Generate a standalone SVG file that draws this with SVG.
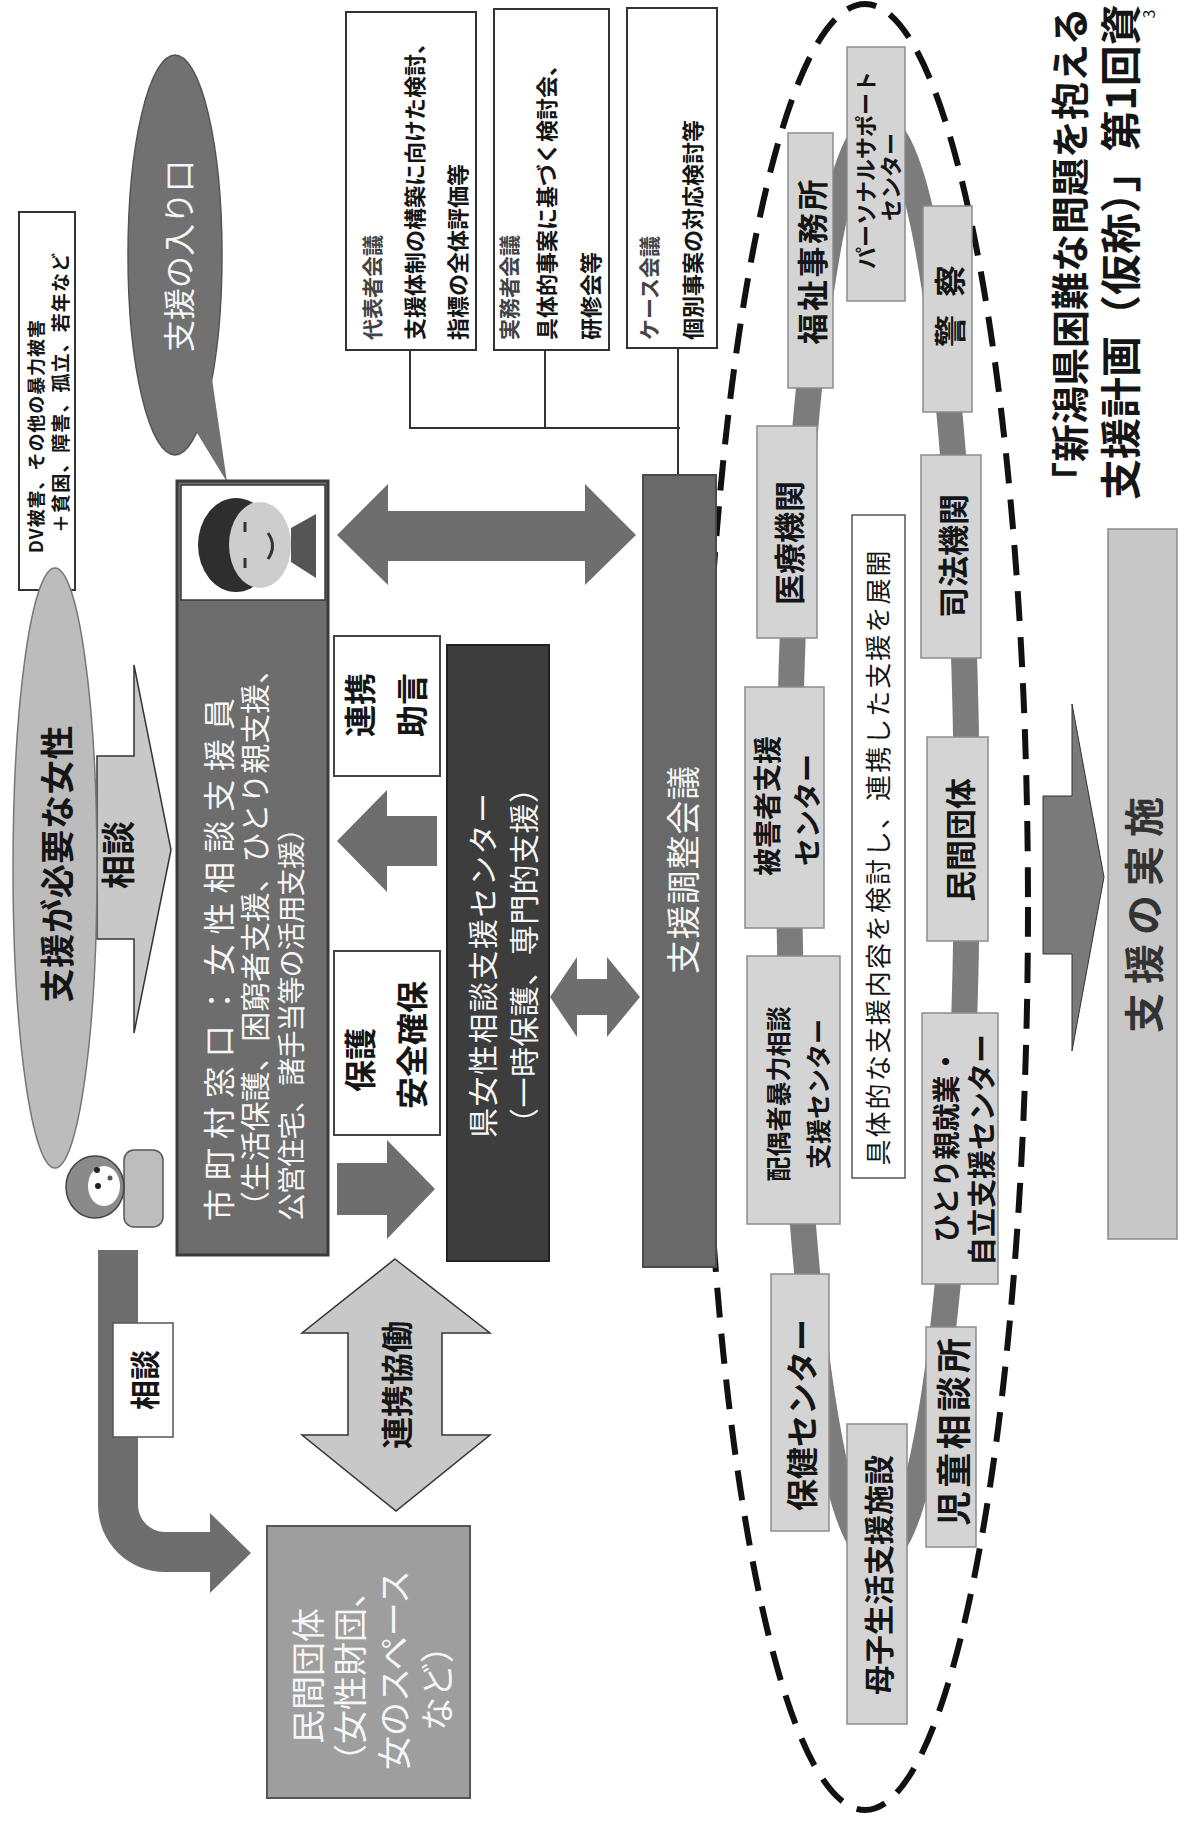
<svg xmlns="http://www.w3.org/2000/svg" width="1184" height="1831" viewBox="0 0 1184 1831">
<style>
text{font-family:"Noto Sans CJK JP","Noto Sans CJK SC",sans-serif;dominant-baseline:central}
.b{font-weight:700}
.s{text-anchor:start}
.m{text-anchor:middle}
.wt{fill:#f6f6f6}
.dk{fill:#151515}
.org{fill:#d4d4d4;stroke:#8c8c8c;stroke-width:1.5}
.meet{fill:#fff;stroke:#333;stroke-width:2}
.lbl{fill:#444}
.blk{fill:#6e6e6e}
.lt{fill:#c8c8c8;stroke:#333;stroke-width:1.5}
</style>
<rect width="1184" height="1831" fill="#fff"/>

<!-- page heading (runs along the right edge) -->
<g id="title">
  <text class="b s dk" font-size="38" transform="translate(1067 500) rotate(-90)">「新潟県困難な問題を抱える</text>
  <text class="b s dk" font-size="41" transform="translate(1118 500) rotate(-90)">支援計画（仮称）」第1回資</text>
  <text class="m dk" font-size="16" transform="translate(1148 14) rotate(-90)">3</text>
</g>

<!-- connectors: block arrows and meeting lines -->
<g id="connectors">
  <!-- consultation arrow: woman -> municipal window -->
  <polygon class="lt" points="97,756 134,756 134,665 171,850 134,1033 134,939 97,939"/>
  <!-- consultation L-arrow: woman -> private groups -->
  <path class="blk" d="M98,1250 H138 V1505 A27,27 0 0 0 165,1532 H210 V1513 L251,1553 L210,1593 V1572 H165 A67,67 0 0 1 98,1505 Z"/>
  <!-- cooperation double arrow -->
  <polygon class="lt" points="395,1259 490,1333 442,1333 442,1435 490,1435 396,1511 302,1435 348,1435 348,1333 302,1333"/>
  <!-- municipal window <-> coordination meeting -->
  <polygon class="blk" points="337,535 388,484 388,511 585,511 585,484 636,535 585,585 585,561 388,561 388,585"/>
  <!-- prefecture centre -> municipal window -->
  <polygon class="blk" points="337,841 387,790 387,816 437,816 437,866 387,866 387,892"/>
  <!-- municipal window -> prefecture centre -->
  <polygon class="blk" points="337,1163 387,1163 387,1140 435,1189 387,1239 387,1215 337,1215"/>
  <!-- prefecture centre <-> coordination meeting -->
  <polygon class="blk" points="550,997 577,957 577,979 607,979 607,957 640,997 607,1037 607,1015 577,1015 577,1037"/>
  <!-- network -> implementation -->
  <polygon fill="#7a7a7a" stroke="#333" stroke-width="1" points="1043,796 1072,796 1072,704 1104,877 1072,1051 1072,954 1043,954"/>
  <!-- meeting tree -->
  <path d="M410,350 V428 H680 M545,350 V428 M678,348 V476" fill="none" stroke="#333" stroke-width="2"/>
</g>

<!-- target group -->
<g id="dv-box">
  <rect x="19" y="212" width="56" height="378" fill="#fff" stroke="#333" stroke-width="2"/>
  <text class="b s dk" font-size="18" textLength="233" transform="translate(35 553) rotate(-90)">DV被害、その他の暴力被害</text>
  <text class="b s dk" font-size="19" textLength="280" transform="translate(59 533) rotate(-90)">＋貧困、障害、孤立、若年など</text>
</g>

<g id="woman-needing-support">
  <ellipse cx="55" cy="868" rx="42" ry="300" fill="#bcbcbc" stroke="#777" stroke-width="1.5"/>
  <text class="b m dk" font-size="34" textLength="277" transform="translate(55 864) rotate(-90)">支援が必要な女性</text>
  <text class="b m dk" font-size="34" transform="translate(116 855) rotate(-90)">相談</text>
</g>

<g id="woman-figure">
  <rect x="124" y="1150" width="39" height="77" rx="10" fill="#bdbdbd" stroke="#555" stroke-width="1.5"/>
  <ellipse cx="95" cy="1187" rx="29" ry="31" fill="#8a8a8a" stroke="#444" stroke-width="1.5"/>
  <ellipse cx="104" cy="1186" rx="16" ry="20" fill="#fff"/>
  <circle cx="97" cy="1170" r="3" fill="#222"/>
  <circle cx="98" cy="1186" r="3" fill="#222"/>
  <circle cx="110" cy="1178" r="2.5" fill="#555"/>
</g>

<g id="entry-bubble">
  <ellipse cx="175" cy="255" rx="47" ry="200" fill="#717171" stroke="#555" stroke-width="1.5"/>
  <polygon points="194,428 227,482 211,372" fill="#717171"/>
  <text class="m wt" font-size="32" transform="translate(177 256) rotate(-90)">支援の入り口</text>
</g>

<g id="municipal-window">
  <rect x="177" y="481" width="151" height="774" fill="#6d6d6d" stroke="#3a3a3a" stroke-width="3"/>
  <rect x="181" y="485" width="144" height="115" fill="#fff" stroke="#3a3a3a" stroke-width="1.5"/>
  <ellipse cx="236" cy="545" rx="38" ry="47" fill="#2e2e2e"/>
  <ellipse cx="260" cy="545" rx="31" ry="43" fill="#cdcdcd"/>
  <path d="M291,528 L316,514 L316,578 L291,562 Z" fill="#555"/>
  <path d="M245,522 v10 M245,558 v10" stroke="#333" stroke-width="3"/>
  <path d="M268,533 q9,13 0,26" fill="none" stroke="#333" stroke-width="3"/>
  <text class="s wt" font-size="32" textLength="523" transform="translate(217 1221) rotate(-90)">市町村窓口：女性相談支援員</text>
  <text class="s wt" font-size="30" textLength="567" transform="translate(253 1221) rotate(-90)">（生活保護、困窮者支援、ひとり親支援、</text>
  <text class="s wt" font-size="28" textLength="407" transform="translate(290 1221) rotate(-90)">公営住宅、諸手当等の活用支援）</text>
</g>

<g id="liaison-advice">
  <rect x="334" y="636" width="106" height="140" fill="#fff" stroke="#444" stroke-width="2"/>
  <text class="b m dk" font-size="32" transform="translate(358 705) rotate(-90)">連携</text>
  <text class="b m dk" font-size="32" transform="translate(410 705) rotate(-90)">助言</text>
</g>

<g id="protection">
  <rect x="334" y="951" width="106" height="184" fill="#fff" stroke="#444" stroke-width="2"/>
  <text class="b m dk" font-size="32" transform="translate(358 1060) rotate(-90)">保護</text>
  <text class="b m dk" font-size="32" transform="translate(410 1045) rotate(-90)">安全確保</text>
</g>

<g id="prefecture-centre">
  <rect x="447" y="645" width="102" height="616" fill="#3d3d3d" stroke="#222" stroke-width="2"/>
  <text class="s wt" font-size="30" textLength="345" transform="translate(481 1138) rotate(-90)">県女性相談支援センター</text>
  <text class="s wt" font-size="30" textLength="365" transform="translate(522 1138) rotate(-90)">（一時保護、専門的支援）</text>
</g>

<g id="private-groups">
  <rect x="267" y="1526" width="203" height="272" fill="#9e9e9e" stroke="#555" stroke-width="2"/>
  <text class="m wt" font-size="34" transform="translate(306 1676) rotate(-90)">民間団体</text>
  <text class="m wt" font-size="34" transform="translate(348 1676) rotate(-90)">（女性財団、</text>
  <text class="m wt" font-size="34" transform="translate(392 1670) rotate(-90)">女のスペース</text>
  <text class="m wt" font-size="34" transform="translate(435 1680) rotate(-90)">など）</text>
</g>

<g id="consult-label">
  <rect x="113" y="1323" width="60" height="114" fill="#fff" stroke="#555" stroke-width="1.5"/>
  <text class="b m dk" font-size="30" transform="translate(143 1380) rotate(-90)">相談</text>
</g>

<g id="cooperation-label">
  <text class="b m dk" font-size="32" transform="translate(395 1385) rotate(-90)">連携協働</text>
</g>

<!-- meetings -->
<g id="representatives-meeting">
  <rect class="meet" x="346" y="12" width="130" height="338"/>
  <text class="b s lbl" font-size="21" transform="translate(371 340) rotate(-90)">代表者会議</text>
  <text class="b s dk" font-size="22" transform="translate(413 340) rotate(-90)">支援体制の構築に向けた検討、</text>
  <text class="b s dk" font-size="22" transform="translate(456 340) rotate(-90)">指標の全体評価等</text>
</g>
<g id="practitioners-meeting">
  <rect class="meet" x="494" y="9" width="115" height="341"/>
  <text class="b s lbl" font-size="21" transform="translate(508 340) rotate(-90)">実務者会議</text>
  <text class="b s dk" font-size="22" transform="translate(545 340) rotate(-90)">具体的事案に基づく検討会、</text>
  <text class="b s dk" font-size="22" transform="translate(589 340) rotate(-90)">研修会等</text>
</g>
<g id="case-meeting">
  <rect class="meet" x="627" y="8" width="90" height="340"/>
  <text class="b s lbl" font-size="21" transform="translate(648 340) rotate(-90)">ケース会議</text>
  <text class="b s dk" font-size="22" transform="translate(691 340) rotate(-90)">個別事案の対応検討等</text>
</g>

<!-- support network -->
<g id="network">
  <ellipse cx="865" cy="907" rx="163" ry="903" fill="none" stroke="#111" stroke-width="6" stroke-dasharray="30 16"/>
  <ellipse cx="878" cy="840" rx="89" ry="715" fill="none" stroke="#7c7c7c" stroke-width="26"/>
</g>

<g id="personal-support">
  <rect class="org" x="847" y="47" width="58" height="254"/>
  <text class="b m dk" font-size="22" transform="translate(864 170) rotate(-90)">パーソナルサポート</text>
  <text class="b m dk" font-size="22" transform="translate(889 177) rotate(-90)">センター</text>
</g>
<g id="welfare-office">
  <rect class="org" x="788" y="133" width="45" height="255"/>
  <text class="b m dk" font-size="31" textLength="165" transform="translate(810 262) rotate(-90)">福祉事務所</text>
</g>
<g id="police">
  <rect class="org" x="923" y="206" width="49" height="206"/>
  <text class="b m dk" font-size="32" textLength="82" transform="translate(948 306) rotate(-90)">警察</text>
</g>
<g id="medical">
  <rect class="org" x="757" y="426" width="60" height="212"/>
  <text class="b m dk" font-size="31" transform="translate(787 543) rotate(-90)">医療機関</text>
</g>
<g id="judicial">
  <rect class="org" x="921" y="455" width="60" height="203"/>
  <text class="b m dk" font-size="31" transform="translate(951 556) rotate(-90)">司法機関</text>
</g>
<g id="victim-support">
  <rect class="org" x="745" y="687" width="79" height="241"/>
  <text class="b m dk" font-size="28" transform="translate(766 806) rotate(-90)">被害者支援</text>
  <text class="b m dk" font-size="28" transform="translate(806 810) rotate(-90)">センター</text>
</g>
<g id="spousal-violence">
  <rect class="org" x="747" y="956" width="93" height="268"/>
  <text class="b m dk" font-size="25" transform="translate(777 1094) rotate(-90)">配偶者暴力相談</text>
  <text class="b m dk" font-size="25" transform="translate(817 1094) rotate(-90)">支援センター</text>
</g>
<g id="private-org">
  <rect class="org" x="927" y="737" width="61" height="204"/>
  <text class="b m dk" font-size="31" transform="translate(958 840) rotate(-90)">民間団体</text>
</g>
<g id="single-parent">
  <rect class="org" x="922" y="1013" width="76" height="271"/>
  <text class="b m dk" font-size="28" transform="translate(945 1145) rotate(-90)">ひとり親就業・</text>
  <text class="b m dk" font-size="29" transform="translate(980 1150) rotate(-90)">自立支援センター</text>
</g>
<g id="health-centre">
  <rect class="org" x="771" y="1274" width="58" height="257"/>
  <text class="b m dk" font-size="32" transform="translate(800 1415) rotate(-90)">保健センター</text>
</g>
<g id="child-guidance">
  <rect class="org" x="926" y="1327" width="50" height="220"/>
  <text class="b m dk" font-size="35" textLength="188" transform="translate(951 1432) rotate(-90)">児童相談所</text>
</g>
<g id="mother-child">
  <rect class="org" x="847" y="1424" width="60" height="300"/>
  <text class="b m dk" font-size="30" transform="translate(877 1575) rotate(-90)">母子生活支援施設</text>
</g>
<g id="network-note">
  <rect x="852" y="515" width="53" height="663" fill="#fff" stroke="#555" stroke-width="1.5"/>
  <text class="m dk" font-size="26" textLength="615" transform="translate(876 858) rotate(-90)">具体的な支援内容を検討し、連携した支援を展開</text>
</g>

<g id="coordination-meeting">
  <rect x="643" y="475" width="73" height="792" fill="#696969" stroke="#4a4a4a" stroke-width="2"/>
  <text class="m wt" font-size="34" textLength="208" transform="translate(681 870) rotate(-90)">支援調整会議</text>
</g>

<g id="implementation">
  <rect x="1108" y="529" width="69" height="710" fill="#c7c7c7" stroke="#8a8a8a" stroke-width="1.5"/>
  <text class="m b" fill="#333" font-size="40" textLength="236" transform="translate(1142 915) rotate(-90)">支援の実施</text>
</g>
</svg>
